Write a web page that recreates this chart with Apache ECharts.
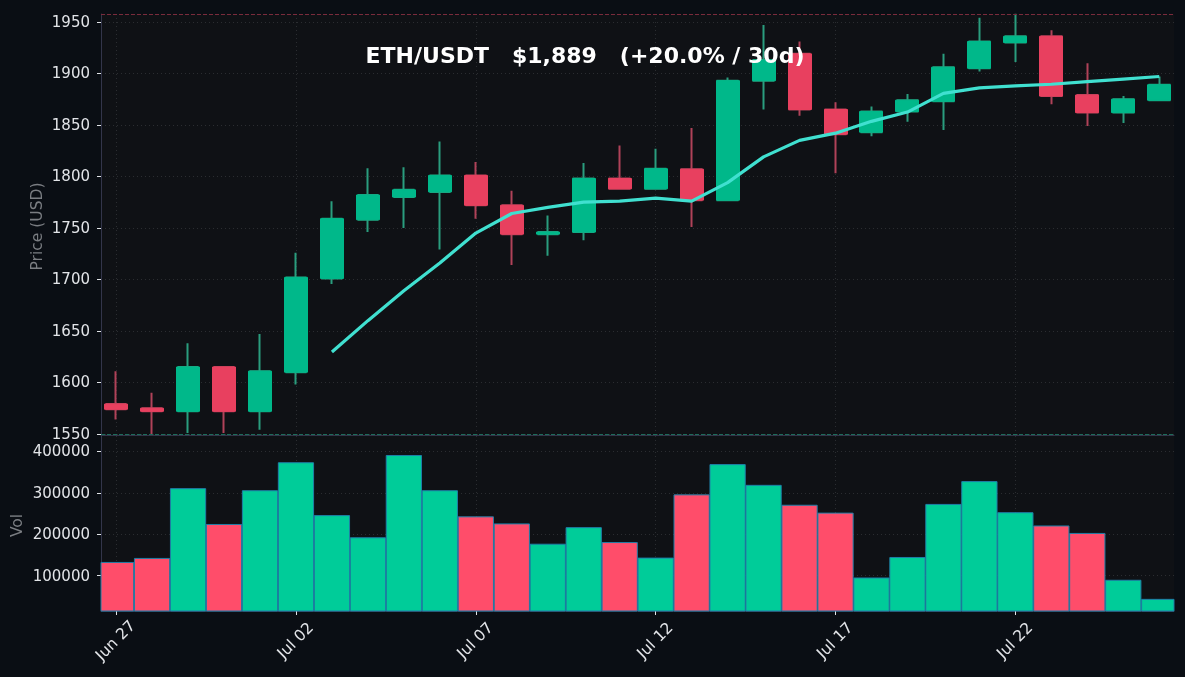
<!DOCTYPE html>
<html><head><meta charset="utf-8">
<style>html,body{margin:0;padding:0;background:#0a0e14}#c{width:1185px;height:677px}</style>
<script src="https://cdn.jsdelivr.net/npm/echarts@6/dist/echarts.min.js"></script>
</head><body><div id="c"></div>
<script>
const dates = ['Jun 27','Jun 28','Jun 29','Jun 30','Jul 01','Jul 02','Jul 03','Jul 04','Jul 05','Jul 06','Jul 07','Jul 08','Jul 09','Jul 10','Jul 11','Jul 12','Jul 13','Jul 14','Jul 15','Jul 16','Jul 17','Jul 18','Jul 19','Jul 20','Jul 21','Jul 22','Jul 23','Jul 24','Jul 25','Jul 26'];
const opens  = [1579,1575,1572,1615,1572,1610,1701,1758,1780,1785,1801,1772,1744,1746,1798,1788,1807,1777,1893,1919,1865,1843,1863,1873,1905,1930,1936,1879,1862,1874];
const closes = [1574,1572,1615,1572,1611,1702,1759,1782,1787,1801,1772,1744,1746,1798,1788,1807.5,1777,1893,1913,1865,1841,1863,1874,1906,1931,1936,1878,1862,1875,1889];
const lows   = [1564,1549,1551,1551,1554,1598,1695.5,1746,1750,1729,1759,1714,1723,1738,1787,1788,1751,1776,1865,1859,1803,1839,1853,1845,1902,1911,1870,1849,1852,1874];
const highs  = [1611,1590,1638,1615,1647,1726,1776,1808,1809,1834,1814,1786,1762,1813,1830,1827,1847,1896,1947,1931,1872,1868,1880,1919,1954,1958,1942,1910,1878,1897];
const maLine = [null,null,null,null,null,null,1629.5,1660,1689,1716,1745,1764,1770,1775,1776,1779,1776,1794,1819,1835,1842,1853.5,1862.5,1880.6,1886,1888,1889.5,1892,1894.5,1897];
const volumes = [132000,141700,310000,223600,305000,372500,245000,191500,390000,305000,242000,225000,176000,216000,180000,142500,295000,368000,318000,270000,251000,94500,144000,272000,327000,252000,220000,202000,89000,43000];
const priceTicks = [1550,1600,1650,1700,1750,1800,1850,1900,1950];
const volTicks = [100000,200000,300000,400000];
const dateTicks = [0,5,10,15,20,25];
const periodHigh = 1957.5, periodLow = 1549.5;
const titleText = 'ETH/USDT   $1,889   (+20.0% / 30d)';

const GREEN='#00b88a', RED='#e8405f', WICK_G='#2a9d7e', WICK_R='#b04259';
const gridDot={show:true,lineStyle:{color:'#2b2d31',type:[1,3],width:1}};
const lab={color:'#e2e4e8',fontFamily:'DejaVu Sans',fontSize:15};
const idx=dates.map((_,i)=>i);
const wickData=idx.map(i=>[i,opens[i],closes[i],lows[i],highs[i]]);
const bodyData=idx.map(i=>[i,opens[i],closes[i],Math.min(opens[i],closes[i]),Math.max(opens[i],closes[i])]);
const up=i=>closes[i]>=opens[i];
const chart=echarts.init(document.getElementById('c'),null,{renderer:'canvas'});
const xBase={type:'value',min:-0.42,max:29.41,
  axisTick:{customValues:dateTicks,show:true,length:4,lineStyle:{color:'#e2e4e8'}},
  axisLine:{show:true,onZero:false,lineStyle:{color:'#33354a'}},
  splitLine:gridDot};
const yBase={type:'value',scale:true,position:'left',
  axisLine:{show:true,onZero:false,lineStyle:{color:'#33354a'}},
  axisTick:{show:true,length:4,lineStyle:{color:'#e2e4e8'}},
  splitLine:gridDot,
  nameLocation:'middle',nameRotate:90,nameMoveOverlap:false,nameTextStyle:{color:'#7a7d82',fontFamily:'DejaVu Sans',fontSize:15.5,padding:[0,4,0,0]}};
chart.setOption({
  animation:false,
  backgroundColor:'#0a0e14',
  title:{text:titleText,left:580,top:41,textAlign:'center',textStyle:{color:'#fff',fontFamily:'DejaVu Sans',fontWeight:'bold',fontSize:22}},
  grid:[
    {left:101,top:14,width:1073,height:421,show:true,backgroundColor:'#0f1115',borderWidth:0,outerBoundsMode:'none'},
    {left:101,top:436,width:1073,height:175,show:true,backgroundColor:'#0f1115',borderWidth:0,outerBoundsMode:'none'}
  ],
  xAxis:[
    Object.assign({},xBase,{gridIndex:0,axisLabel:{show:false},axisTick:{show:false,customValues:dateTicks}}),
    Object.assign({},xBase,{gridIndex:1,axisLabel:Object.assign({},lab,{customValues:dateTicks,rotate:45,align:'center',verticalAlign:'middle',margin:30,fontSize:15.5,formatter:v=>dates[v]})})
  ],
  yAxis:[
    Object.assign({},yBase,{gridIndex:0,min:1549,max:1957.7,name:'Price (USD)',nameGap:55,
      axisLabel:Object.assign({},lab,{customValues:priceTicks,margin:11,verticalAlign:'top',padding:[-6.5,0,0,0],formatter:v=>String(v)}),
      axisTick:Object.assign({},yBase.axisTick,{customValues:priceTicks})}),
    Object.assign({},yBase,{gridIndex:1,min:14900,max:437000,name:'Vol',nameGap:75,
      axisLabel:Object.assign({},lab,{customValues:volTicks,margin:11,verticalAlign:'top',padding:[-6.5,0,0,0],formatter:v=>String(v)}),
      axisTick:Object.assign({},yBase.axisTick,{customValues:volTicks})})
  ],
  series:[
    {type:'candlestick',xAxisIndex:0,yAxisIndex:0,barWidth:20,data:wickData,
     itemStyle:{color:GREEN,color0:RED,borderColor:WICK_G,borderColor0:WICK_R,borderWidth:2},
     markLine:{silent:true,symbol:'none',label:{show:false},animation:false,
       data:[{yAxis:periodHigh,lineStyle:{color:'#7a2b3c',type:[4,2],width:1}},{yAxis:periodLow,lineStyle:{color:'#1d6b5a',type:[4,2],width:1}}]}},
    {type:'candlestick',xAxisIndex:0,yAxisIndex:0,barWidth:23.5,data:bodyData,
     itemStyle:{color:GREEN,color0:RED,borderColor:GREEN,borderColor0:RED,borderWidth:1}},
    {type:'line',xAxisIndex:0,yAxisIndex:0,data:idx.map(i=>[i,maLine[i]]),showSymbol:false,connectNulls:false,
     lineStyle:{color:'#40e0d0',width:3.2},z:5},
    {type:'custom',xAxisIndex:1,yAxisIndex:1,encode:{x:0,y:1},
     data:idx.map(i=>[i,volumes[i]]),
     renderItem:function(params,api){
       const i=api.value(0);
       const top=api.coord([i,api.value(1)]);
       const base=api.coord([i,14900]);
       const w=api.size([0.98,0])[0];
       const shape=echarts.graphic.clipRectByRect({x:top[0]-w/2,y:top[1],width:w,height:base[1]-top[1]},params.coordSys);
       return {type:'rect',shape:shape,style:{fill:up(i)?'#00cc99':'#ff4d6a',stroke:'#1f7fa8',lineWidth:1}};
     }}
  ]
});
</script></body></html>
